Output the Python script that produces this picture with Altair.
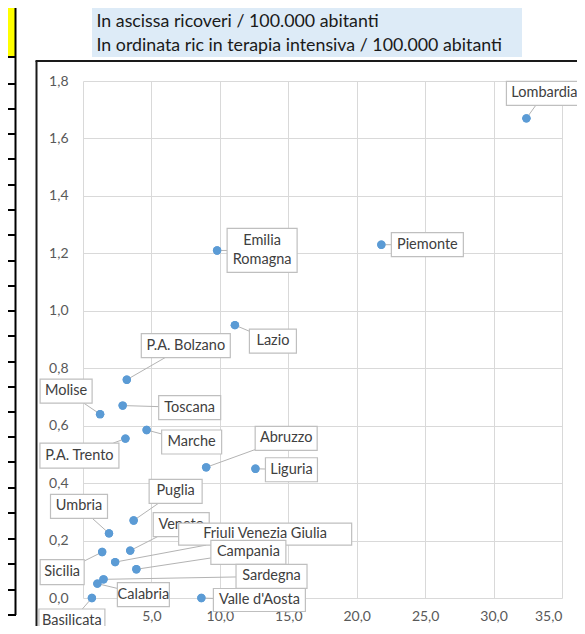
import altair as alt
import pandas as pd

# ---------------- data ----------------
regions = ["Lombardia", "Piemonte", "Emilia Romagna", "Lazio", "P.A. Bolzano",
           "Molise", "Toscana", "Marche", "P.A. Trento", "Abruzzo", "Liguria",
           "Puglia", "Umbria", "Veneto", "Sicilia", "Friuli Venezia Giulia",
           "Campania", "Sardegna", "Calabria", "Valle d'Aosta", "Basilicata"]
ricoveri = [32.4, 21.8, 9.8, 11.1, 3.2, 1.25, 2.9, 4.65, 3.1, 9.0, 12.6,
            3.7, 1.9, 3.45, 1.4, 2.35, 3.9, 1.5, 1.05, 8.65, 0.65]
terapia = [1.67, 1.23, 1.21, 0.95, 0.76, 0.64, 0.67, 0.585, 0.555, 0.455, 0.45,
           0.27, 0.225, 0.165, 0.16, 0.125, 0.10, 0.065, 0.05, 0.0, 0.0]

x_ticks = [0, 5, 10, 15, 20, 25, 30, 35]
y_ticks = [0, 0.2, 0.4, 0.6, 0.8, 1.0, 1.2, 1.4, 1.6, 1.8]

title_lines = ["In ascissa ricoveri / 100.000 abitanti",
               "In ordinata ric in terapia intensiva / 100.000 abitanti"]

# callout layout (pixel offset of box centre from the point, box width, height)
callouts = {
    "Lombardia": (18, -25, 76, 24),
    "Piemonte": (46, 0, 72, 24),
    "Emilia Romagna": (45, 0, 70, 44),
    "Lazio": (38, 16, 47, 24),
    "P.A. Bolzano": (59, -34, 89, 24),
    "Molise": (-34, -23, 52, 24),
    "Toscana": (67, 2, 62, 24),
    "Marche": (45, 12, 60, 24),
    "P.A. Trento": (-46, 17, 79, 25),
    "Abruzzo": (80, -29, 62, 24),
    "Liguria": (36, 1, 52, 24),
    "Puglia": (42, -29, 53, 24),
    "Umbria": (-30, -27, 57, 24),
    "Veneto": (51, -26, 56, 24),
    "Sicilia": (-40, 20, 44, 25),
    "Friuli Venezia Giulia": (150, -28, 173, 22),
    "Campania": (112, -17, 75, 24),
    "Sardegna": (168, -3, 71, 24),
    "Calabria": (46, 11, 52, 24),
    "Valle d'Aosta": (58, 2, 92, 23),
    "Basilicata": (-20, 23, 66, 24),
}

# ---------------- layout ----------------
W, H = 479, 517
XMAX, YMAX = 35, 1.8
PXX = W / XMAX
PXY = H / YMAX
FONT = "Lato"
LINE_H = 19

rows = []
for i, (r, xv, yv) in enumerate(zip(regions, ricoveri, terapia)):
    dx, dy, w, h = callouts[r]
    sx = (w / 2) / abs(dx) if dx else 1e9
    sy = (h / 2) / abs(dy) if dy else 1e9
    s = min(sx, sy, 1.0)
    ex_px, ey_px = dx - dx * s, dy - dy * s
    label = r.replace(" Romagna", "\nRomagna")
    nlines = label.count("\n") + 1
    tdy = dy - (nlines - 1) * LINE_H / 2
    rows.append(dict(
        region=r, label=label, order=i,
        ric=xv, ti=yv,
        bx0=xv + (dx - w / 2) / PXX, bx1=xv + (dx + w / 2) / PXX,
        by0=yv - (dy - h / 2) / PXY, by1=yv - (dy + h / 2) / PXY,
        tx=xv + dx / PXX, ty=yv - tdy / PXY,
        ex=xv + ex_px / PXX, ey=yv - ey_px / PXY,
    ))
df = pd.DataFrame(rows)

xs = alt.Scale(domain=[0, XMAX], nice=False, zero=False)
ys = alt.Scale(domain=[0, YMAX], nice=False, zero=False)
fmt = "replace(format(datum.value, '.1f'), '.', ',')"
xax = alt.Axis(values=x_ticks, grid=True, domain=False, ticks=False, tickSize=0,
               labelPadding=11, labelExpr=fmt, title=None)
yax = alt.Axis(values=y_ticks, grid=True, domain=False, ticks=False, tickSize=0,
               labelPadding=15, labelExpr=fmt, title=None)


def X(f):
    return alt.X(f, type="quantitative", scale=xs, axis=xax, title=None)


def Y(f):
    return alt.Y(f, type="quantitative", scale=ys, axis=yax, title=None)


base = alt.Chart(df)
one = pd.DataFrame({"a": [0]})

layers = []

# points first (carries the axes)
layers.append(base.mark_circle(size=70, opacity=1, color="#5B9BD5").encode(
    x=X("ric"), y=Y("ti"), tooltip=["region:N"]))

# spreadsheet decorations (left column, yellow cell, chart frame, title cell)
deco = alt.Chart(one)
layers.append(deco.mark_rect(color="#FFFF00").encode(
    x=alt.value(-75), x2=alt.value(-68), y=alt.value(-73), y2=alt.value(-24)))
layers.append(deco.mark_rule(color="#000000", strokeWidth=2).encode(
    x=alt.value(-67.5), y=alt.value(-73), y2=alt.value(534)))
for yy in [57, 84, 109, 134, 159, 185, 210, 235, 261, 286, 311, 336, 362,
           387, 412, 437, 462, 488, 513, 539, 564, 590, 615]:
    layers.append(deco.mark_rule(color="#000000", strokeWidth=2).encode(
        x=alt.value(-75), x2=alt.value(-67), y=alt.value(yy - 81)))
layers.append(deco.mark_rule(color="#1a1a1a", strokeWidth=2).encode(
    x=alt.value(-46.5), y=alt.value(-20), y2=alt.value(545)))
layers.append(deco.mark_rule(color="#1a1a1a", strokeWidth=2).encode(
    x=alt.value(-47.5), x2=alt.value(502), y=alt.value(-20)))
layers.append(deco.mark_rect(color="#DDEBF7").encode(
    x=alt.value(9), x2=alt.value(439), y=alt.value(-73), y2=alt.value(-24)))
for txt, yy in zip(title_lines, [-54, -30]):
    layers.append(alt.Chart(pd.DataFrame({"t": [txt]})).mark_text(
        align="left", baseline="alphabetic", font=FONT, fontSize=17.8,
        color="#1a1a1a").encode(x=alt.value(13.5), y=alt.value(yy), text="t:N"))

# leader lines
layers.append(base.mark_rule(color="#B3B3B3", strokeWidth=1).encode(
    x=X("ric"), y=Y("ti"), x2="ex:Q", y2="ey:Q"))

# points again above the leaders
layers.append(base.mark_circle(size=70, opacity=1, color="#5B9BD5").encode(
    x=X("ric"), y=Y("ti")))

# callout boxes and texts, drawn in series order
for i in range(len(regions)):
    sub = base.transform_filter(alt.datum.order == i)
    layers.append(sub.mark_rect(fill="white", stroke="#BFBFBF", strokeWidth=1.2).encode(
        x=X("bx0"), x2="bx1:Q", y=Y("by0"), y2="by1:Q"))
    layers.append(sub.mark_text(font=FONT, fontSize=14.5, color="#404040",
                                align="center", baseline="middle",
                                lineBreak="\n", lineHeight=LINE_H).encode(
        x=X("tx"), y=Y("ty"), text="label:N"))

chart = alt.layer(*layers).properties(
    width=W, height=H,
    autosize=alt.AutoSizeParams(type="none"),
    padding={"left": 75, "top": 73, "right": 15, "bottom": 28},
    background="white",
).configure_view(stroke=None).configure_axis(
    gridColor="#D9D9D9", gridWidth=1, labelFont=FONT, labelFontSize=14,
    labelColor="#595959",
)

chart.save("out.html", embed_options={"renderer": "svg", "actions": False})
